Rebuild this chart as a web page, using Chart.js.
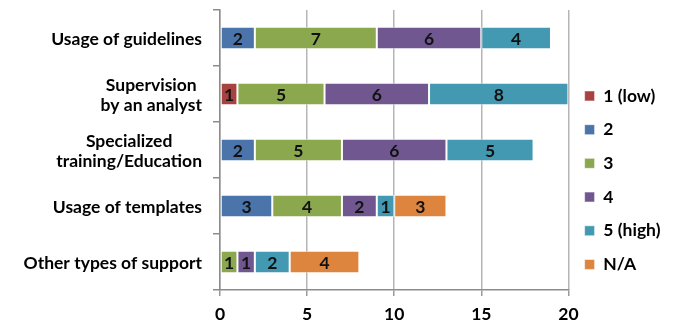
<!DOCTYPE html>
<html>
<head>
<meta charset="utf-8">
<script src="https://cdn.jsdelivr.net/npm/chart.js@4/dist/chart.umd.min.js"></script>
<style>
  html, body { margin: 0; padding: 0; background: #fff; }
  #wrap { width: 675px; height: 324px; position: relative; }
</style>
</head>
<body>
<div id="wrap"><canvas id="c"></canvas></div>
<script>
// Support types (each entry is one label, split into its lines)
const categories = [
  ["Usage of guidelines"],
  ["Supervision", "by an analyst"],
  ["Specialized", "training/Education"],
  ["Usage of templates"],
  ["Other types of support"]
];

// Rating groups
const seriesNames = ["1 (low)", "2", "3", "4", "5 (high)", "N/A"];

// Number of answers per rating, one value per support type
const ratingLow  = [0, 1, 0, 0, 0];
const ratingTwo  = [2, 0, 2, 3, 0];
const ratingThree = [7, 5, 5, 4, 1];
const ratingFour = [6, 6, 6, 2, 1];
const ratingHigh = [4, 8, 5, 1, 2];
const ratingNA   = [0, 0, 0, 3, 4];

// Value axis
const axisMax = 20;
const axisStep = 5;

const seriesValues = [ratingLow, ratingTwo, ratingThree, ratingFour, ratingHigh, ratingNA];
const seriesColors = ["#A8423F", "#4A74AA", "#8BA84F", "#71578F", "#4399B1", "#DD853E"];

const FONT = "Lato, 'Open Sans', sans-serif";
const FONT_SIZE = 17.5;

// Draws the category names: right-aligned block, lines centred within the block
const categoryLabels = {
  id: 'categoryLabels',
  afterDraw(chart) {
    const scale = chart.scales.y;
    const ctx = chart.ctx;
    ctx.save();
    ctx.font = "bold " + FONT_SIZE + "px " + FONT;
    ctx.fillStyle = "#000";
    ctx.textAlign = "center";
    ctx.textBaseline = "middle";
    const right = scale.right - 7 - 11;
    const lineGap = 20;
    categories.forEach((lines, i) => {
      const cy = scale.getPixelForValue(i);
      const w = Math.max(...lines.map(l => ctx.measureText(l).width));
      const cx = right - w / 2;
      lines.forEach((l, j) => {
        ctx.fillText(l, cx, cy + (j - (lines.length - 1) / 2) * lineGap + 1);
      });
    });
    ctx.restore();
  }
};

// Writes each segment's value in its centre
const segmentValues = {
  id: 'segmentValues',
  afterDatasetsDraw(chart) {
    const ctx = chart.ctx;
    ctx.save();
    ctx.font = "bold " + FONT_SIZE + "px " + FONT;
    ctx.fillStyle = "#111";
    ctx.textAlign = "center";
    ctx.textBaseline = "middle";
    chart.data.datasets.forEach((ds, di) => {
      const meta = chart.getDatasetMeta(di);
      if (meta.hidden) return;
      meta.data.forEach((bar, i) => {
        const v = ds.data[i];
        if (!v) return;
        const p = bar.getCenterPoint();
        ctx.fillText(String(v), p.x, p.y + 1);
      });
    });
    ctx.restore();
  }
};

new Chart(document.getElementById('c'), {
  type: 'bar',
  data: {
    labels: categories.map(l => l.join(' ')),
    datasets: seriesNames.map((name, k) => ({
      label: name,
      data: seriesValues[k],
      backgroundColor: seriesColors[k],
      borderColor: 'rgba(255,255,255,0.55)',
      borderWidth: 1,
      borderSkipped: false,
      categoryPercentage: 0.8,
      barPercentage: 0.5
    }))
  },
  options: {
    indexAxis: 'y',
    responsive: true,
    maintainAspectRatio: false,
    animation: false,
    layout: { padding: { top: 10, right: 4.5, bottom: 0, left: 0 } },
    scales: {
      x: {
        stacked: true,
        min: 0,
        max: axisMax,
        ticks: {
          stepSize: axisStep,
          color: '#000',
          font: { family: FONT, size: FONT_SIZE, weight: 'bold' },
          padding: 8
        },
        grid: { color: '#b5b5b5', lineWidth: 1.5, tickLength: 6, tickColor: '#9a9a9a' },
        border: { color: '#8c8c8c', width: 1.5 },
        afterFit(s) { s.height = 34; }
      },
      y: {
        stacked: true,
        ticks: { display: false },
        grid: { offset: true, drawOnChartArea: false, drawTicks: true, tickLength: 7, color: '#8c8c8c', lineWidth: 1.5 },
        border: { color: '#8c8c8c', width: 1.5 },
        afterFit(s) { s.width = 220; }
      }
    },
    plugins: {
      tooltip: { enabled: false },
      legend: {
        position: 'right',
        align: 'center',
        title: { display: true, text: '', padding: 6, font: { size: 12 } },
        labels: {
          boxWidth: 10,
          boxHeight: 10,
          padding: 16.2,
          color: '#000',
          font: { family: FONT, size: FONT_SIZE, weight: 'bold' }
        }
      }
    }
  },
  plugins: [categoryLabels, segmentValues]
});
</script>
</body>
</html>
